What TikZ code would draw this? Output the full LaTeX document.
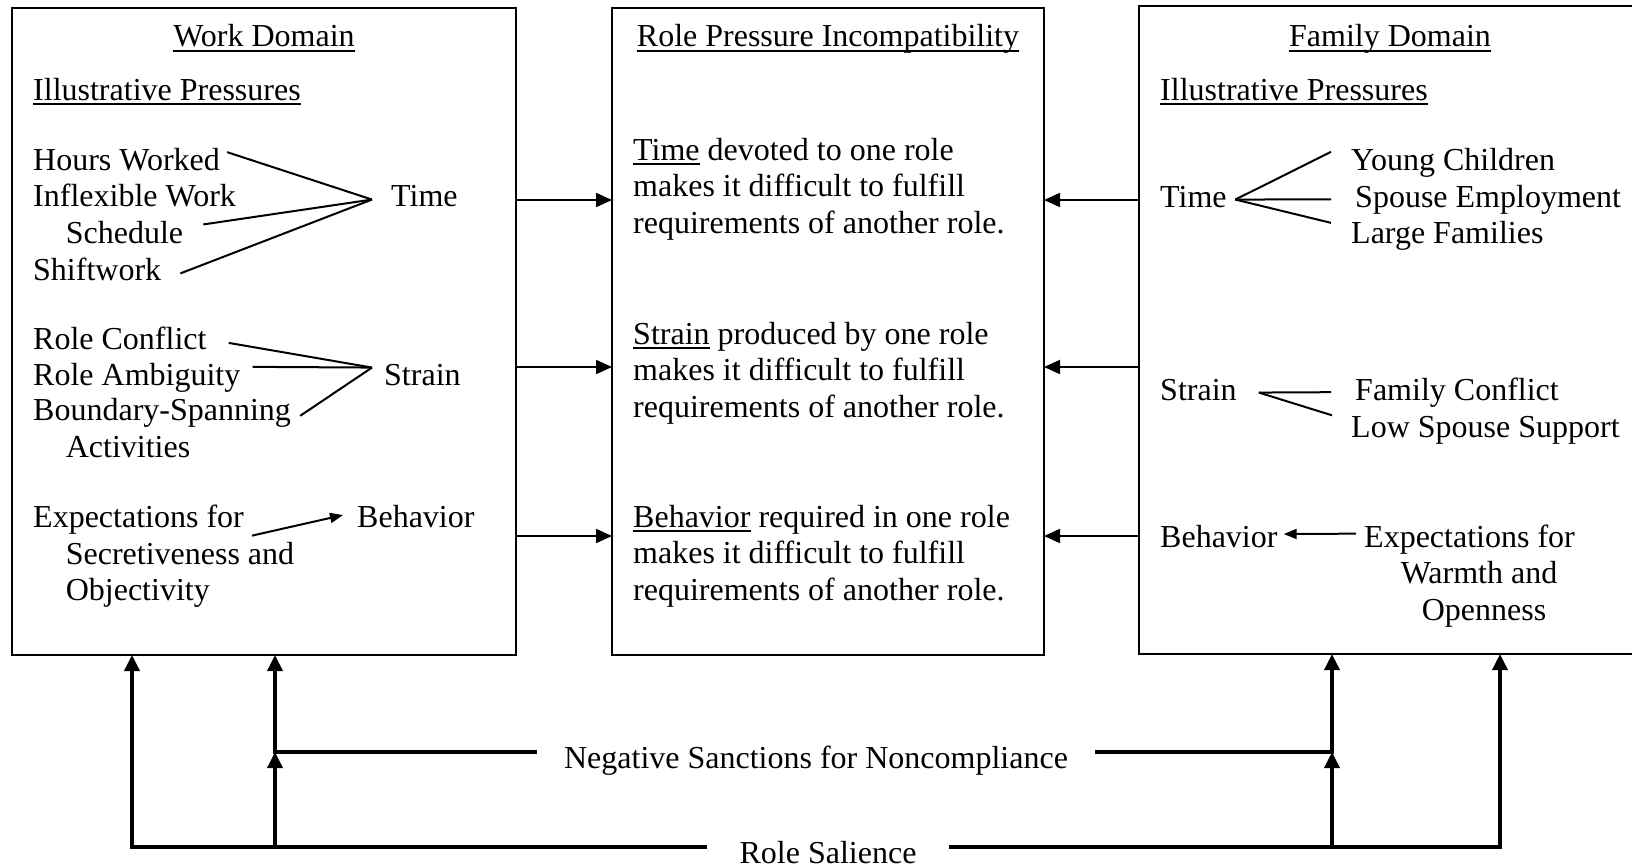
\documentclass[tikz,border=0pt]{standalone}
\usepackage{fontspec}
\setmainfont{Liberation Serif}
\usetikzlibrary{arrows.meta,positioning,calc}
\newcommand{\fsz}{\fontsize{32}{36.7}\selectfont}
\newcommand{\ulin}[1]{\vtop{\setbox0\hbox{#1}\dp0=0pt\box0\kern3pt\hrule height 2pt}}

\begin{document}
\begin{tikzpicture}[x=1pt,y=-1pt,
        caja/.style={draw,line width=2pt,outer sep=0pt,inner sep=0pt,anchor=north west},
        texto/.style={anchor=base west,inner sep=0pt,font=\fsz},
        titulo/.style={anchor=base,inner sep=0pt,font=\fsz},
        parrafo/.style={texto,text width=400pt,align=flush left},
        etiqueta/.style={anchor=base,inner ysep=0pt,font=\fsz},
        linea/.style={line width=2pt},
        flecha/.style={-{Triangle[length=16pt,width=14pt]},line width=2pt},
        flechita/.style={-{Triangle[length=13pt,width=10pt]},line width=2pt},
        barra/.style={-{Triangle[length=16pt,width=15pt]},line width=3.5pt}]
        \useasboundingbox (0,0) rectangle (1632,867);
        % three domains
        \node[caja,minimum width=504pt,minimum height=647pt] (trabajo) at (12,8) {};
        \node[caja,minimum width=432pt,minimum height=647pt] (rol) at (612,8) {};
        \node[caja,minimum width=495pt,minimum height=648pt] (familia) at (1139,6) {};
        \node[titulo] (tt) at (264,47) {\ulin{Work Domain}};
        \node[titulo] (rt) at (828,47) {\ulin{Role Pressure Incompatibility}};
        \node[titulo] (ft) at (1390,47) {\ulin{Family Domain}};
        \node[texto] (tip) at (33,100) {\ulin{Illustrative Pressures}};
        \node[texto] (fip) at (1160,100) {\ulin{Illustrative Pressures}};
        % work domain
        \node[texto] (t1) at (33,170) {Hours Worked};
        \node[texto] (t2) at (33,206.7) {Inflexible Work};
        \node[texto] (t3) at (65.6,243.4) {Schedule};
        \node[texto] (t4) at (33,280) {Shiftwork};
        \node[texto] (ttiempo) at (391,206) {Time};
        \coordinate (tv1) at ([xshift=-19pt,yshift=-4pt]ttiempo.west);
        \draw[linea] ([xshift=7pt,yshift=7pt]t1.east) -- (tv1);
        \draw[linea] ([xshift=20pt,yshift=8pt]t3.east) -- (tv1);
        \draw[linea] ([xshift=19pt,yshift=-4.5pt]t4.east) -- (tv1);
        \node[texto] (s1) at (33,349) {Role Conflict};
        \node[texto] (s2) at (33,385) {Role Ambiguity};
        \node[texto] (s3) at (33,420) {Boundary-Spanning};
        \node[texto] (s4) at (65.6,457) {Activities};
        \node[texto] (stension) at (384,385) {Strain};
        \coordinate (tv2) at ([xshift=-12pt,yshift=7pt]stension.west);
        \draw[linea] ([xshift=22pt,yshift=-5pt]s1.east) -- (tv2);
        \draw[linea] ([xshift=12pt,yshift=10.5pt]s2.east) -- (tv2);
        \draw[linea] ([xshift=9pt,yshift=-3.5pt]s3.east) -- (tv2);
        \node[texto] (c1) at (33,527) {Expectations for};
        \node[texto] (c2) at (65.6,564) {Secretiveness and};
        \node[texto] (c3) at (65.6,600) {Objectivity};
        \node[texto] (cconducta) at (357,527) {Behavior};
        \draw[flechita] ([xshift=8pt,yshift=-16.5pt]c1.east) -- ([xshift=-14pt,yshift=1pt]cconducta.west);
        % incompatibility
        \node[parrafo] (ptiempo) at (633,160) {\ulin{Time} devoted to one role\\makes it difficult to fulfill\\requirements of another role.};
        \node[parrafo] (ptension) at (633,344) {\ulin{Strain} produced by one role\\makes it difficult to fulfill\\requirements of another role.};
        \node[parrafo] (pconducta) at (633,527) {\ulin{Behavior} required in one role\\makes it difficult to fulfill\\requirements of another role.};
        \coordinate (n1) at (0,200);
        \coordinate (n2) at (0,367);
        \coordinate (n3) at (0,536);
        \foreach \n in {n1,n2,n3} {
          \draw[flecha] (trabajo.east |- \n) -- (rol.west |- \n);
          \draw[flecha] (familia.west |- \n) -- (rol.east |- \n);
        }
        % family domain
        \node[texto] (ftiempo) at (1160,207) {Time};
        \node[texto] (f1) at (1351,170) {Young Children};
        \node[texto] (f2) at (1355,207) {Spouse Employment};
        \node[texto] (f3) at (1351,243) {Large Families};
        \coordinate (fv1) at ([xshift=8.5pt,yshift=-3pt]ftiempo.east);
        \draw[linea] ([xshift=-20pt,yshift=10.5pt]f1.west) -- (fv1);
        \draw[linea] ([xshift=-24pt]f2.west) -- (fv1);
        \draw[linea] ([xshift=-20pt,yshift=12.5pt]f3.west) -- (fv1);
        \node[texto] (ftension) at (1160,400) {Strain};
        \node[texto] (f4) at (1355,400) {Family Conflict};
        \node[texto] (f5) at (1351,437) {Low Spouse Support};
        \coordinate (fv2) at ([xshift=22pt,yshift=-3pt]ftension.east);
        \draw[linea] ([xshift=-24pt]f4.west) -- (fv2);
        \draw[linea] ([xshift=-19pt,yshift=14.5pt]f5.west) -- (fv2);
        \node[texto] (fconducta) at (1160,547) {Behavior};
        \node[texto] (f6) at (1364,547) {Expectations for};
        \node[titulo] (f7) at (1479,583) {Warmth and};
        \node[titulo] (f8) at (1484,620) {Openness};
        \draw[flechita] ([xshift=-8pt,yshift=5.5pt]f6.west) -- ([xshift=6pt,yshift=2pt]fconducta.east);
        % sanctions and salience
        \node[etiqueta,inner xsep=27pt] (sanc) at (816,768) {Negative Sanctions for Noncompliance};
        \node[etiqueta,inner xsep=32pt] (sal) at (828,863) {Role Salience};
        \coordinate (bs) at (0,752);
        \coordinate (bi) at (0,847);
        \coordinate (wa) at ([xshift=120pt]trabajo.south west);
        \coordinate (wb) at ([xshift=263pt]trabajo.south west);
        \coordinate (fa) at ([xshift=193pt]familia.south west);
        \coordinate (fb) at ([xshift=361pt]familia.south west);
        \draw[barra] (sal.west |- bi) -| (wa);
        \draw[barra] (sal.east |- bi) -| (fb);
        \draw[barra] (wb |- bi) -- (wb |- bs);
        \draw[barra] (fa |- bi) -- (fa |- bs);
        \draw[barra] (sanc.west |- bs) -| (wb);
        \draw[barra] (sanc.east |- bs) -| (fa);
      \end{tikzpicture}
\end{document}
